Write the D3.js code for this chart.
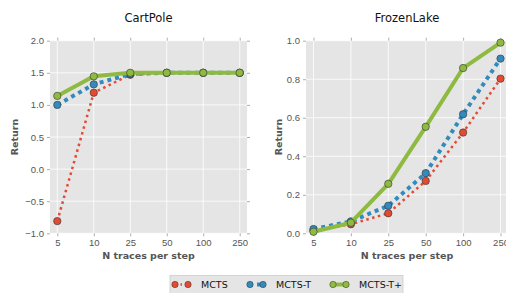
<!DOCTYPE html>
<html>
<head>
<meta charset="utf-8">
<script src="https://cdn.jsdelivr.net/npm/d3@7"></script>
<style>
  body { margin: 0; background: #fff; }
  svg { font-family: "DejaVu Sans", sans-serif; }
</style>
</head>
<body>
<svg id="chart" width="506" height="293"></svg>
<script>
// ---- data ----
const traces = ["5", "10", "25", "50", "100", "250"];
const seriesNames = ["MCTS", "MCTS-T", "MCTS-T+"];

const cartMCTS = [-0.81, 1.19, 1.47, 1.5, 1.5, 1.5];
const cartMCTST = [1.0, 1.32, 1.48, 1.5, 1.5, 1.5];
const cartMCTSTplus = [1.14, 1.445, 1.5, 1.5, 1.5, 1.5];

const lakeMCTS = [0.015, 0.047, 0.104, 0.272, 0.523, 0.803];
const lakeMCTST = [0.022, 0.062, 0.143, 0.312, 0.618, 0.907];
const lakeMCTSTplus = [0.008, 0.055, 0.257, 0.553, 0.858, 0.99];

const cartTicks = [-1.0, -0.5, 0.0, 0.5, 1.0, 1.5, 2.0];
const lakeTicks = [0.0, 0.2, 0.4, 0.6, 0.8, 1.0];

// ---- styles per series ----
const styles = [
  { color: "#E24A33", width: 2.5, dash: "2.5,3.5" },
  { color: "#348ABD", width: 4, dash: "4,4" },
  { color: "#8EBA42", width: 4, dash: null }
];

const svg = d3.select("#chart");

function panel(opts) {
  const { left, right, top, bottom, title, yDomain, yTicks, fmt, data, labelX } = opts;
  const g = svg.append("g");

  const x = d3.scalePoint().domain(traces).range([left, right]).padding(0.2);
  const y = d3.scaleLinear().domain(yDomain).range([bottom, top]);

  g.append("rect")
    .attr("x", left).attr("y", top)
    .attr("width", right - left).attr("height", bottom - top)
    .attr("fill", "#E5E5E5");

  // grid
  g.selectAll(".gx").data(traces).enter().append("line")
    .attr("x1", d => x(d)).attr("x2", d => x(d))
    .attr("y1", top).attr("y2", bottom)
    .attr("stroke", "#fff").attr("stroke-width", 0.8);
  g.selectAll(".gy").data(yTicks).enter().append("line")
    .attr("x1", left).attr("x2", right)
    .attr("y1", d => y(d)).attr("y2", d => y(d))
    .attr("stroke", "#fff").attr("stroke-width", 0.8);

  // axes
  g.append("g").attr("transform", `translate(0,${bottom})`)
    .call(d3.axisBottom(x).tickSize(3).tickPadding(3));
  g.append("g").attr("transform", `translate(${left},0)`)
    .call(d3.axisLeft(y).tickValues(yTicks).tickFormat(fmt).tickSize(3).tickPadding(3));
  g.append("g").attr("transform", `translate(0,${top})`)
    .call(d3.axisTop(x).tickSize(3).tickFormat(""));
  g.append("g").attr("transform", `translate(${right},0)`)
    .call(d3.axisRight(y).tickValues(yTicks).tickSize(3).tickFormat(""));

  g.selectAll(".domain").remove();
  g.selectAll(".tick line").attr("stroke", "#999").attr("stroke-width", 0.8);
  g.selectAll(".tick text").attr("fill", "#555").style("font-size", "9.5px");

  // titles
  const cx = (left + right) / 2;
  g.append("text").attr("x", cx).attr("y", 22)
    .attr("text-anchor", "middle").style("font-size", "11.5px").attr("fill", "#111")
    .text(title);
  g.append("text").attr("x", cx).attr("y", 259)
    .attr("text-anchor", "middle").style("font-size", "9.5px").style("font-weight", "bold")
    .attr("fill", "#555").text("N traces per step");
  g.append("text")
    .attr("transform", `translate(${labelX},${(top + bottom) / 2}) rotate(-90)`)
    .attr("text-anchor", "middle").style("font-size", "9.5px").style("font-weight", "bold")
    .attr("fill", "#555").text("Return");

  // series
  const line = d3.line().x((d, i) => x(traces[i])).y(d => y(d));
  data.forEach((vals, k) => {
    const s = styles[k];
    g.append("path").datum(vals)
      .attr("d", line)
      .attr("fill", "none")
      .attr("stroke", s.color)
      .attr("stroke-width", s.width)
      .attr("stroke-dasharray", s.dash)
      .attr("stroke-linejoin", "round");
    g.selectAll(null).data(vals).enter().append("circle")
      .attr("cx", (d, i) => x(traces[i])).attr("cy", d => y(d))
      .attr("r", 3.7)
      .attr("fill", s.color)
      .attr("stroke", "#333").attr("stroke-width", 0.6);
  });
}

panel({
  left: 50, right: 247, top: 40.7, bottom: 233.3,
  title: "CartPole", yDomain: [-1, 2], yTicks: cartTicks, fmt: d3.format(".1f"),
  data: [cartMCTS, cartMCTST, cartMCTSTplus], labelX: 18
});

panel({
  left: 306, right: 508, top: 40.7, bottom: 233.3,
  title: "FrozenLake", yDomain: [0, 1], yTicks: lakeTicks, fmt: d3.format(".1f"),
  data: [lakeMCTS, lakeMCTST, lakeMCTSTplus], labelX: 282
});

// minus sign like matplotlib
svg.selectAll(".tick text").text(function () {
  return d3.select(this).text().replace("-", "\u2212");
});

// ---- legend ----
const legend = svg.append("g");
legend.append("rect")
  .attr("x", 170).attr("y", 275.5).attr("width", 233).attr("height", 22)
  .attr("fill", "#E5E5E5").attr("stroke", "#ccc").attr("stroke-width", 0.8);

const legendX = [175, 250, 333];
seriesNames.forEach((name, k) => {
  const s = styles[k];
  const x0 = legendX[k], yy = 284.5;
  legend.append("line")
    .attr("x1", x0).attr("x2", x0 + 13).attr("y1", yy).attr("y2", yy)
    .attr("stroke", s.color).attr("stroke-width", s.width)
    .attr("stroke-dasharray", k === 0 ? "1.5,4" : (k === 1 ? "3,4" : null));
  [x0, x0 + 13].forEach(cx => {
    legend.append("circle").attr("cx", cx).attr("cy", yy).attr("r", 3.2)
      .attr("fill", s.color).attr("stroke", "#333").attr("stroke-width", 0.5);
  });
  legend.append("text").attr("x", x0 + 26).attr("y", yy + 3.5)
    .style("font-size", "9.5px").attr("fill", "#111").text(name);
});
</script>
</body>
</html>
